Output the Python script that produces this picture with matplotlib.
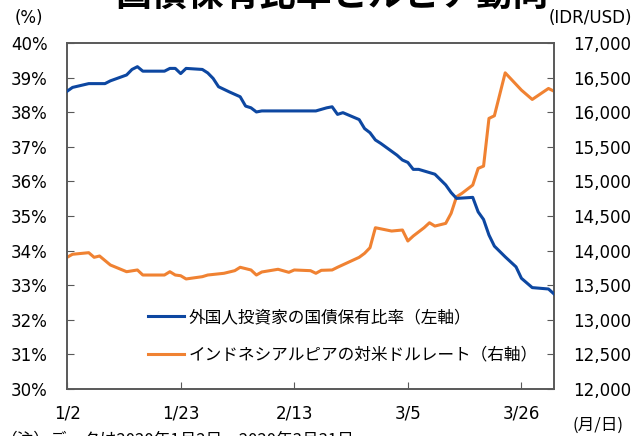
import numpy as np
import matplotlib
matplotlib.use("Agg")
import matplotlib.pyplot as plt

plt.rcParams['font.family'] = ['DejaVu Sans', 'Noto Sans CJK JP']

# ---- data ----
# x = calendar days since 2020-01-02
bond_days = [0, 1, 4, 7, 8, 11, 12, 13, 14, 18, 19, 20, 21, 22, 25, 26, 27, 28,
             30, 32, 33, 34, 35, 36, 46, 48, 49, 50, 51, 54, 55, 56, 57, 58, 61,
             62, 63, 64, 65, 68, 70, 71, 72, 75, 76, 77, 78, 79, 81, 83, 84, 86,
             89, 90]
bond_share = [38.61, 38.72, 38.83, 38.83, 38.91, 39.08, 39.24, 39.32, 39.19,
              39.19, 39.27, 39.27, 39.12, 39.27, 39.24, 39.14, 38.98, 38.74,
              38.59, 38.45, 38.18, 38.13, 38.01, 38.04, 38.04, 38.13, 38.16,
              37.94, 37.99, 37.79, 37.53, 37.41, 37.20, 37.10, 36.76, 36.62,
              36.55, 36.35, 36.35, 36.21, 35.90, 35.68, 35.51, 35.54, 35.12,
              34.90, 34.45, 34.13, 33.82, 33.53, 33.20, 32.93, 32.89, 32.75]

fx_days = [0, 1, 4, 5, 6, 8, 11, 13, 14, 18, 19, 20, 21, 22, 25, 26, 29, 31,
           32, 34, 35, 36, 39, 41, 42, 45, 46, 47, 49, 50, 54, 55, 56, 57, 60,
           62, 63, 64, 66, 67, 68, 70, 71, 72, 73, 75, 76, 77, 78, 79, 81, 84,
           86, 89, 90]
idr_usd = [13903, 13947, 13970, 13903, 13922, 13792, 13695, 13720, 13647,
           13647, 13695, 13647, 13637, 13590, 13623, 13647, 13672, 13710,
           13759, 13720, 13647, 13691, 13730, 13686, 13720, 13710, 13672,
           13715, 13720, 13759, 13903, 13961, 14042, 14331, 14283, 14298,
           14139, 14211, 14331, 14403, 14355, 14394, 14539, 14779, 14828,
           14948, 15189, 15222, 15912, 15950, 16571, 16321, 16186, 16345,
           16306]

tick_days = [0, 21, 42, 63, 84]
tick_labels = ['1/2', '1/23', '2/13', '3/5', '3/26']

blue = '#0D47A1'
orange = '#F08232'
spine_col = '#595959'

# ---- figure ----
fig = plt.figure(figsize=(6.33, 4.36), dpi=100)
ax = fig.add_axes([0.106, 0.108, 0.769, 0.793])
ax2 = ax.twinx()

l1, = ax.plot(bond_days, bond_share, color=blue, lw=2.2, zorder=3,
              label='外国人投資家の国債保有比率（左軸）')
l2, = ax2.plot(fx_days, idr_usd, color=orange, lw=2.2,
               label='インドネシアルピアの対米ドルレート（右軸）')
ax.set_zorder(ax2.get_zorder() + 1)
ax.patch.set_visible(False)

ax.set_xlim(0, 90)
ax.set_ylim(30, 40)
ax.set_yticks(np.arange(30, 41, 1))
ax.set_yticklabels([f'{v}%' for v in range(30, 41)])
ax2.set_ylim(12000, 17000)
ax2.set_yticks(np.arange(12000, 17001, 500))
ax2.set_yticklabels([f'{v:,}' for v in range(12000, 17001, 500)])
ax.set_xticks(tick_days)
ax.set_xticklabels(tick_labels)

for a in (ax, ax2):
    for s in a.spines.values():
        s.set_color(spine_col)
        s.set_linewidth(1.2)
ax.tick_params(axis='y', direction='in', length=5, color=spine_col,
               labelsize=12, pad=14)
ax.tick_params(axis='x', direction='in', length=5, color=spine_col,
               labelsize=12, pad=11)
ax2.tick_params(axis='y', direction='in', length=5, color=spine_col,
                labelsize=12, pad=14)

leg = ax.legend(handles=[l1, l2], loc='upper left',
                bbox_to_anchor=(0.135, 0.275), frameon=False,
                prop={'family': ['Noto Sans CJK JP'], 'size': 12},
                handlelength=2.2, handletextpad=0.25, labelspacing=1.25)

# ---- texts ----
fig.text(0.045, 1 - 18 / 436, '(%)', ha='center', va='center', fontsize=12)
fig.text(0.932, 1 - 18 / 436, '(IDR/USD)', ha='center', va='center',
         fontsize=12)
fig.text(0.945, 1 - 425 / 436, '(月/日)', ha='center', va='center',
         fontsize=12, family=['Noto Sans CJK JP'])
fig.text(0.525, 1 - 7 / 436, '国債保有比率とルピア動向', ha='center',
         va='baseline', fontsize=26, fontweight='bold',
         family=['Noto Sans CJK JP'])
fig.text(0.0, 1 - 431 / 436, '（注）データは2020年1月2日～2020年3月31日。',
         ha='left', va='top', fontsize=12, family=['Noto Sans CJK JP'])

fig.savefig('out.png', dpi=100)
